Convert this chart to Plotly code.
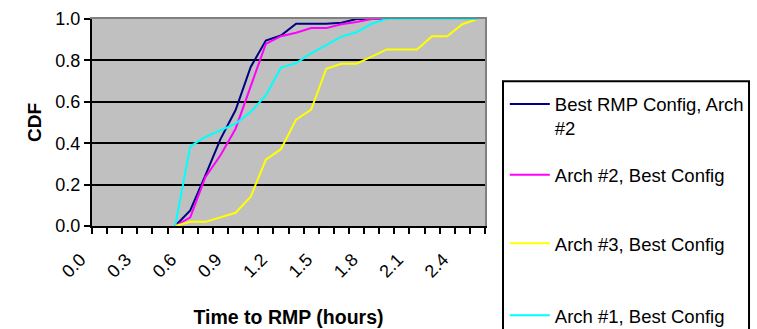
import plotly.graph_objects as go

# Time to RMP categories (hours); every third one is labelled
hours = [0.5, 0.6, 0.7, 0.8, 0.9, 1.0, 1.1, 1.2, 1.3, 1.4, 1.5,
         1.6, 1.7, 1.8, 1.9, 2.0, 2.1, 2.2, 2.3, 2.4, 2.5]
tick_hours = [0.0, 0.3, 0.6, 0.9, 1.2, 1.5, 1.8, 2.1, 2.4]
tick_labels = ["0.0", "0.3", "0.6", "0.9", "1.2", "1.5", "1.8", "2.1", "2.4"]

# CDF values per configuration
best_rmp_arch2 = [0, 0.075, 0.245, 0.42, 0.56, 0.768, 0.896, 0.92, 0.977, 0.977, 0.977,
                  0.982, 1, 1, 1, 1, 1, 1, 1, 1, 1]
arch2_best = [0, 0.042, 0.236, 0.342, 0.47, 0.675, 0.88, 0.917, 0.934, 0.956, 0.956,
              0.975, 0.985, 1, 1, 1, 1, 1, 1, 1, 1]
arch3_best = [0, 0.02, 0.02, 0.042, 0.064, 0.141, 0.321, 0.371, 0.514, 0.562, 0.76,
              0.784, 0.784, 0.818, 0.853, 0.853, 0.853, 0.917, 0.917, 0.975, 1]
arch1_best = [0, 0.385, 0.43, 0.463, 0.495, 0.551, 0.631, 0.765, 0.787, 0.834, 0.875,
              0.915, 0.936, 0.977, 1, 1, 1, 1, 1, 1, 1]

series = [
    ("Best RMP Config, Arch<br>#2", best_rmp_arch2, "#000080"),
    ("Arch #2, Best Config", arch2_best, "#FF00FF"),
    ("Arch #3, Best Config", arch3_best, "#FFFF00"),
    ("Arch #1, Best Config", arch1_best, "#00FFFF"),
]

FONT = "Liberation Sans, Arial, sans-serif"

# one legend per entry so the entries can be spread down the key box
legend_ids = ["legend", "legend2", "legend3", "legend4"]
legend_tops = [0.679, 0.337, 0.006, -0.342]

fig = go.Figure()
for (name, vals, color), lid in zip(series, legend_ids):
    fig.add_trace(go.Scatter(
        x=hours, y=vals, mode="lines", name=name,
        legend=lid,
        line=dict(color=color, width=2),
    ))

legend_style = dict(
    x=1.0504, xanchor="left", yanchor="top",
    bgcolor="rgba(0,0,0,0)", borderwidth=0,
    font=dict(family=FONT, size=18.5, color="black"),
    valign="top", itemwidth=40,
)
legend_layout = {lid: dict(y=top, **legend_style) for lid, top in zip(legend_ids, legend_tops)}

fig.update_layout(
    width=757, height=329,
    margin=dict(l=92, r=272, t=19, b=103, autoexpand=False),
    paper_bgcolor="white",
    plot_bgcolor="#C0C0C0",
    font=dict(family=FONT, size=18, color="black"),
    showlegend=True,
    **legend_layout,
    xaxis=dict(
        range=[-0.05, 2.55],
        tickmode="array", tickvals=tick_hours, ticktext=tick_labels,
        ticks="", tickangle=-45,
        ticklabelshift=-19, ticklabelstandoff=14,
        tickfont=dict(family=FONT, size=18),
        showgrid=False, zeroline=False,
        showline=True, linecolor="black", linewidth=2,
        minor=dict(tick0=-0.05, dtick=0.1, ticks="outside", ticklen=6,
                   tickcolor="black", tickwidth=2, showgrid=False),
        title=dict(text="<b>Time to RMP (hours)</b>",
                   font=dict(family=FONT, size=19.5), standoff=30),
    ),
    yaxis=dict(
        range=[0, 1.0],
        tickmode="array", tickvals=[0, 0.2, 0.4, 0.6, 0.8, 1.0],
        ticktext=["0.0", "0.2", "0.4", "0.6", "0.8", "1.0"],
        ticks="outside", ticklen=6, tickcolor="black", tickwidth=2,
        tickfont=dict(family=FONT, size=18),
        showgrid=True, gridcolor="black", gridwidth=2,
        zeroline=False,
        showline=True, linecolor="black", linewidth=2,
        title=dict(text="<b>CDF</b>", font=dict(family=FONT, size=19), standoff=9),
    ),
    # grey frame on the top and right edges of the plot area
    xaxis2=dict(overlaying="x", side="top", range=[-0.05, 2.55],
                showline=True, linecolor="#808080", linewidth=2,
                showticklabels=False, ticks="", showgrid=False, zeroline=False),
    yaxis2=dict(overlaying="y", side="right", range=[0, 1.0],
                showline=True, linecolor="#808080", linewidth=2,
                showticklabels=False, ticks="", showgrid=False, zeroline=False),
)

# empty trace so the frame axes are drawn
fig.add_trace(go.Scatter(x=[], y=[], xaxis="x2", yaxis="y2",
                         showlegend=False, hoverinfo="skip"))

# key box around the legend entries
fig.add_shape(type="rect", xref="paper", yref="paper",
              x0=1.0458, x1=1.6718, y0=-0.65, y1=0.699,
              line=dict(color="black", width=2), fillcolor="white", layer="below")

fig.write_html("out.html")
